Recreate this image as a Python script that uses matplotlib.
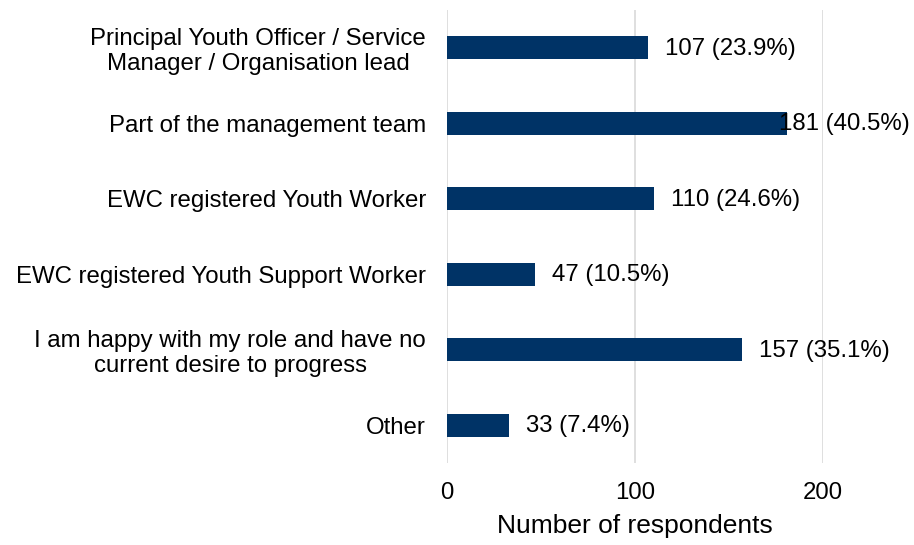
import matplotlib
matplotlib.use("Agg")
import matplotlib.pyplot as plt

plt.rcParams['font.family'] = ['Liberation Sans', 'DejaVu Sans']

categories = [
    "Principal Youth Officer / Service\nManager / Organisation lead",
    "Part of the management team",
    "EWC registered Youth Worker",
    "EWC registered Youth Support Worker",
    "I am happy with my role and have no\ncurrent desire to progress",
    "Other",
]
counts = [107, 181, 110, 47, 157, 33]
percents = [23.9, 40.5, 24.6, 10.5, 35.1, 7.4]
xticks = [0, 100, 200]

bar_color = "#003366"
grid_color = "#d9d9d9"
fs = 17.3

fig = plt.figure(figsize=(9.14, 5.45), dpi=100)
ax = fig.add_axes([447/914, 1-463/545, (823-447)/914, (463-10)/545])

ypos = list(range(len(categories)))
ax.barh(ypos, counts, height=0.31, color=bar_color, zorder=3)
ax.set_ylim(len(categories)-0.5, -0.5)
ax.set_xlim(0, 200)
ax.set_xticks(xticks)
ax.set_xticklabels([str(t) for t in xticks], fontsize=fs)
ax.set_yticks(ypos)
ax.set_yticklabels(categories, fontsize=fs, multialignment='center', linespacing=1.15)
ax.tick_params(axis='both', length=0)
ax.tick_params(axis='x', pad=14)
ax.tick_params(axis='y', pad=15)
for s in ax.spines.values():
    s.set_visible(False)
ax.grid(axis='x', color=grid_color, linewidth=1.2, zorder=0)
ax.set_axisbelow(True)
ax.set_xlabel("Number of respondents", fontsize=19, labelpad=7)

fig.canvas.draw()
renderer = fig.canvas.get_renderer()
fig_right = fig.bbox.width - 4
for y, c, p in zip(ypos, counts, percents):
    t = ax.annotate(f"{c} ({p}%)", xy=(c, y), xytext=(17, -1), textcoords='offset pixels',
                    va='center', ha='left', fontsize=fs, color='black', zorder=4,
                    annotation_clip=False)
    bb = t.get_window_extent(renderer)
    if bb.x1 > fig_right:
        t.set_position((17 - (bb.x1 - fig_right), -1))

fig.savefig("out.png", dpi=100)
